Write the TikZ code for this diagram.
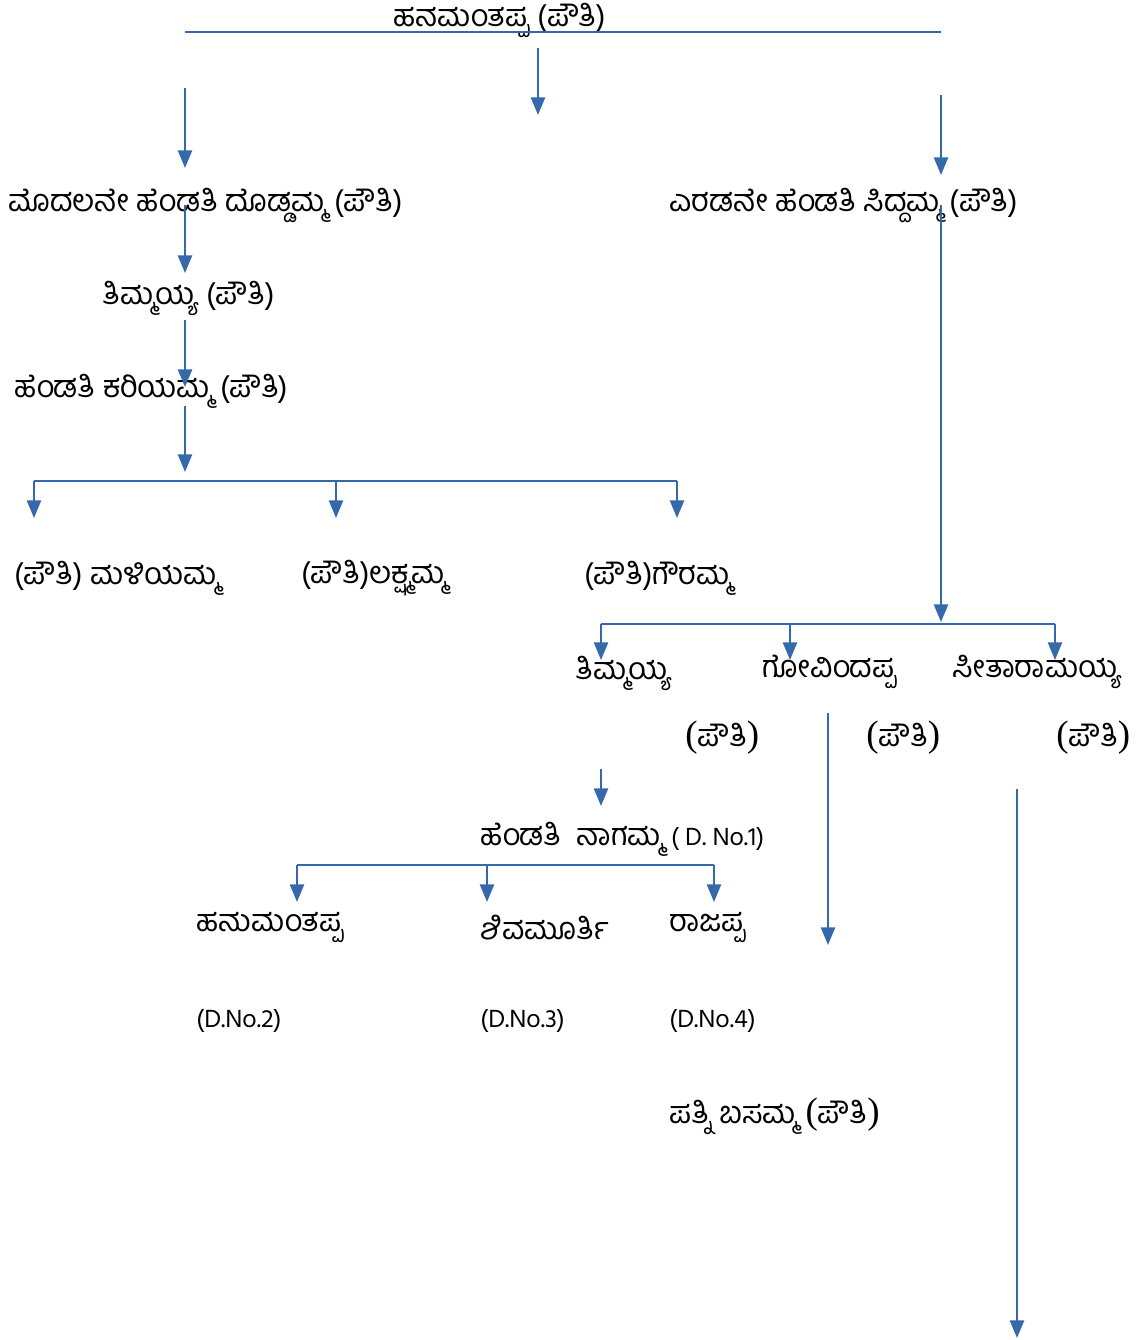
\documentclass[tikz,border=0pt]{standalone}
\usepackage{fontspec}
\setmainfont{Hind Mysuru}[Script=Kannada]
\newfontfamily\parenfont{Liberation Serif}
\usetikzlibrary{arrows.meta}
\definecolor{linkblue}{RGB}{54,104,172}
\newcommand\lat[1]{{\fontsize{14.5}{17}\selectfont #1}}
\newcommand\bigpauti{{\fontsize{21}{24}\parenfont(}ಪೌತಿ{\fontsize{21}{24}\parenfont)}}
\tikzset{
  link/.style={draw=linkblue, line width=1.2pt},
  arr/.style={link, -{Triangle[length=10pt,width=8pt]}},
  person/.style={anchor=west, inner sep=0pt, yshift=-1.6pt, font=\fontsize{17.5}{20}\selectfont},
}

\begin{document}
\begin{tikzpicture}[x=0.02cm, y=-0.02cm]
    \useasboundingbox (0,0) rectangle (1144,1340);
    % names
    \node[person] (root)    at (393,  18) {ಹನಮಂತಪ್ಪ (ಪೌತಿ)};
    \node[person] (wifeA)   at (8,   203) {ಮೊದಲನೇ ಹೆಂಡತಿ ದೊಡ್ಡಮ್ಮ (ಪೌತಿ)};
    \node[person] (wifeB)   at (669, 203) {ಎರಡನೇ ಹೆಂಡತಿ ಸಿದ್ದಮ್ಮ (ಪೌತಿ)};
    \node[person] (thimA)   at (102, 296) {ತಿಮ್ಮಯ್ಯ (ಪೌತಿ)};
    \node[person] (kariya)  at (14,  388) {ಹೆಂಡತಿ ಕರಿಯಮ್ಮ (ಪೌತಿ)};
    \node[person] (maliya)  at (14,  575) {(ಪೌತಿ) ಮಳಿಯಮ್ಮ};
    \node[person] (lakshmi) at (301, 575) {(ಪೌತಿ)ಲಕ್ಷ್ಮಮ್ಮ};
    \node[person] (gowri)   at (584, 575) {(ಪೌತಿ)ಗೌರಮ್ಮ};
    \node[person] (thimB)   at (575, 671) {ತಿಮ್ಮಯ್ಯ};
    \node[person] (govinda) at (762, 669) {ಗೋವಿಂದಪ್ಪ};
    \node[person] (seetha)  at (952, 669) {ಸೀತಾರಾಮಯ್ಯ};
    \node[person] (pThim)   at (685, 735) {\bigpauti};
    \node[person] (pGov)    at (866, 735) {\bigpauti};
    \node[person] (pSee)    at (1056,735) {\bigpauti};
    \node[person] (naga)    at (480, 836) {ಹೆಂಡತಿ\ \ ನಾಗಮ್ಮ \lat{( D. No.1)}};
    \node[person] (hanu)    at (196, 925) {ಹನುಮಂತಪ್ಪ};
    \node[person] (shiva)   at (480, 925) {ಶಿವಮೂರ್ತಿ};
    \node[person] (raja)    at (669, 925) {ರಾಜಪ್ಪ};
    \node[person] (dno2)    at (196,1018) {\lat{(D.No.2)}};
    \node[person] (dno3)    at (480,1018) {\lat{(D.No.3)}};
    \node[person] (dno4)    at (669,1018) {\lat{(D.No.4)}};
    \node[person] (basamma) at (669,1113) {ಪತ್ನಿ ಬಸಮ್ಮ \bigpauti};
    % bars
    \foreach \n/\xa/\xb/\y in {top/185/941/32, kids/34/677/481,
                               sons/601/1055/624, grand/297/714/865} {
      \coordinate (\n L) at (\xa,\y);
      \coordinate (\n R) at (\xb,\y);
      \draw[link] (\n L) -- (\n R);
    }
    % arrows
    \foreach \n/\x/\ya/\yb in {a1/185/88/168, a2/538/48/115, a3/941/95/175,
        a4/185/205/273, a5/185/320/387, a6/185/406/472,
        a7/34/481/518, a8/336/481/518, a9/677/481/518,
        a10/941/205/622, a11/601/624/660, a12/790/624/660, a13/1055/624/660,
        a14/828/713/945, a15/1017/789/1338, a16/601/769/806,
        a17/297/865/902, a18/487/865/902, a19/714/865/902} {
      \coordinate (\n s) at (\x,\ya);
      \coordinate (\n e) at (\x,\yb);
      \draw[arr] (\n s) -- (\n e);
    }
\end{tikzpicture}
\end{document}
